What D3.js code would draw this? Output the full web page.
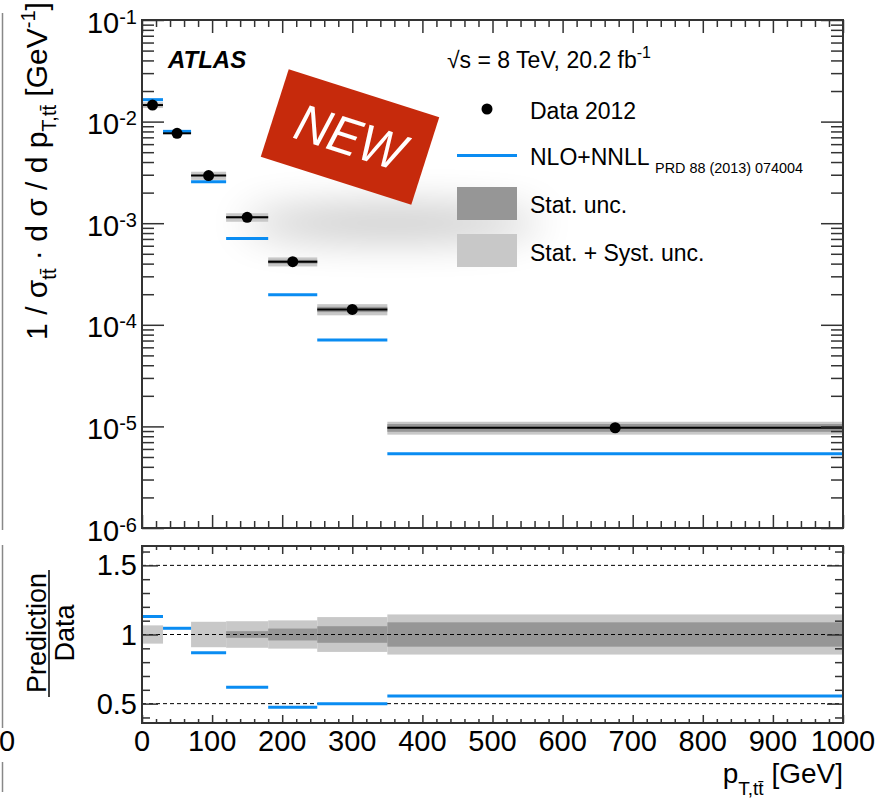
<!DOCTYPE html>
<html>
<head>
<meta charset="utf-8">
<script src="https://cdn.jsdelivr.net/npm/d3@7"></script>
<style>
body { margin: 0; background: #fff; }
text { font-family: "Liberation Sans", Arial, Helvetica, sans-serif; fill: #000; }
</style>
</head>
<body>
<div class="chart"></div>
<script>
// bins in p_T,ttbar [GeV]
const binEdges = [0, 30, 70, 120, 180, 250, 350, 1000];
// normalised cross section, data 2012
const dataVals = [1.455e-2, 7.67e-3, 2.94e-3, 1.143e-3, 4.18e-4, 1.418e-4, 9.7e-6];
// NLO+NNLL / data
const ratioVals = [1.13, 1.045, 0.868, 0.618, 0.474, 0.5, 0.556];
// relative uncertainties
const statUnc = [0, 0, 0, 0.024, 0.043, 0.06, 0.088];
const totUnc = [0.066, 0, 0.092, 0.096, 0.102, 0.126, 0.145];

const yTickExps = [-1, -2, -3, -4, -5, -6];
const ratioTickVals = [0.5, 1, 1.5];
const xTickVals = [0, 100, 200, 300, 400, 500, 600, 700, 800, 900, 1000];

const width = 875, height = 806;
const axisCol = "#333";
const blue = "#0a8cf2";

const svg = d3.select(".chart")
    .append("svg")
    .attr("width", width)
    .attr("height", height)
    .attr("viewBox", [0, 0, width, height]);

const x = d3.scaleLinear().domain([0, 1000]).range([142, 843]);
const y = d3.scaleLog().domain([1e-6, 1e-1]).range([528, 20]);
const r = d3.scaleLinear().domain([0.36, 1.64]).range([723, 546]);

const bins = dataVals.map((d, i) => ({
    lo: binEdges[i], hi: binEdges[i + 1], val: d,
    ratio: ratioVals[i], pred: d * ratioVals[i],
    stat: statUnc[i], tot: totUnc[i]
}));

// leftovers of the neighbouring plot at the left edge
svg.append("g")
    .attr("stroke", "#888").attr("stroke-width", 1.5)
    .selectAll("line")
    .data([[13, 530], [545, 728], [762, 792]])
    .join("line")
    .attr("x1", 2.5).attr("x2", 2.5)
    .attr("y1", d => d[0]).attr("y2", d => d[1]);
svg.append("text").attr("x", 7).attr("y", 751)
    .attr("text-anchor", "middle").attr("font-size", 29).text("0");

// shadow of the "NEW" stamp
const defs = svg.append("defs");
defs.append("filter").attr("id", "blur")
    .attr("x", "-50%").attr("y", "-200%").attr("width", "200%").attr("height", "500%")
    .append("feGaussianBlur").attr("stdDeviation", 20);
svg.append("ellipse")
    .attr("cx", 392).attr("cy", 223).attr("rx", 150).attr("ry", 14)
    .attr("fill", "#000").attr("opacity", 0.27)
    .attr("filter", "url(#blur)");

// uncertainty bands, main panel
const main = svg.append("g");
main.selectAll("rect.tot")
    .data(bins.filter(d => d.tot > 0))
    .join("rect")
    .attr("x", d => x(d.lo)).attr("width", d => x(d.hi) - x(d.lo))
    .attr("y", d => y(d.val * (1 + d.tot)))
    .attr("height", d => y(d.val * (1 - d.tot)) - y(d.val * (1 + d.tot)))
    .attr("fill", "#c8c8c8");
main.selectAll("rect.stat")
    .data(bins.filter(d => d.stat > 0))
    .join("rect")
    .attr("x", d => x(d.lo)).attr("width", d => x(d.hi) - x(d.lo))
    .attr("y", d => y(d.val * (1 + d.stat)))
    .attr("height", d => y(d.val * (1 - d.stat)) - y(d.val * (1 + d.stat)))
    .attr("fill", "#969696");

main.selectAll("line.pred")
    .data(bins)
    .join("line")
    .attr("x1", d => x(d.lo)).attr("x2", d => x(d.hi))
    .attr("y1", d => y(d.pred)).attr("y2", d => y(d.pred))
    .attr("stroke", blue).attr("stroke-width", 3);

main.selectAll("line.data")
    .data(bins)
    .join("line")
    .attr("x1", d => x(d.lo)).attr("x2", d => x(d.hi))
    .attr("y1", d => y(d.val)).attr("y2", d => y(d.val))
    .attr("stroke", "#000").attr("stroke-width", 2);

main.selectAll("circle")
    .data(bins)
    .join("circle")
    .attr("cx", d => x((d.lo + d.hi) / 2))
    .attr("cy", d => y(d.val))
    .attr("r", 5.5)
    .attr("fill", "#000");

// stamp on top
const stamp = svg.append("g").attr("transform", "translate(350,137) rotate(17.7)");
stamp.append("rect")
    .attr("x", -79).attr("y", -46).attr("width", 158).attr("height", 92)
    .attr("fill", "#c62a0c");
stamp.append("text")
    .attr("x", 0).attr("y", 18)
    .attr("text-anchor", "middle")
    .attr("font-family", "'Open Sans', sans-serif")
    .attr("font-style", "italic")
    .attr("font-size", 52)
    .attr("transform", "scale(0.92,1)")
    .style("fill", "#fff")
    .text("NEW");

// ratio panel
const ratio = svg.append("g");
ratio.selectAll("rect.tot")
    .data(bins.filter(d => d.tot > 0))
    .join("rect")
    .attr("x", d => x(d.lo)).attr("width", d => x(d.hi) - x(d.lo))
    .attr("y", d => r(1 + d.tot))
    .attr("height", d => r(1 - d.tot) - r(1 + d.tot))
    .attr("fill", "#c8c8c8");
ratio.selectAll("rect.stat")
    .data(bins.filter(d => d.stat > 0))
    .join("rect")
    .attr("x", d => x(d.lo)).attr("width", d => x(d.hi) - x(d.lo))
    .attr("y", d => r(1 + d.stat))
    .attr("height", d => r(1 - d.stat) - r(1 + d.stat))
    .attr("fill", "#969696");
ratio.selectAll("line.ref")
    .data(ratioTickVals)
    .join("line")
    .attr("x1", x(0)).attr("x2", x(1000))
    .attr("y1", d => r(d)).attr("y2", d => r(d))
    .attr("stroke", "#000").attr("stroke-width", 1)
    .attr("stroke-dasharray", "4,3");
ratio.selectAll("line.pred")
    .data(bins)
    .join("line")
    .attr("x1", d => x(d.lo)).attr("x2", d => x(d.hi))
    .attr("y1", d => r(d.ratio)).attr("y2", d => r(d.ratio))
    .attr("stroke", blue).attr("stroke-width", 3);

// ticks
const yAll = y.ticks();
const yMajor = yAll.filter(v => Math.abs(Math.log10(v) - Math.round(Math.log10(v))) < 1e-9);
const yMinor = yAll.filter(v => !yMajor.includes(v));
const xMinor = d3.range(0, 1001, 20).filter(v => v % 100 !== 0);
const rMinor = d3.range(4, 17).map(v => v / 10).filter(v => !ratioTickVals.includes(v));

function ticks(axis, tx, ty, vals, size) {
    const g = svg.append("g")
        .attr("transform", `translate(${tx},${ty})`)
        .call(axis.tickValues(vals).tickSize(size).tickFormat("").tickSizeOuter(0));
    g.select(".domain").remove();
    g.selectAll("line").attr("stroke", axisCol).attr("stroke-width", 1.5);
}
ticks(d3.axisLeft(y), 142, 0, yMinor, -12);
ticks(d3.axisLeft(y), 142, 0, yMajor, -22);
ticks(d3.axisRight(y), 843, 0, yMinor, -12);
ticks(d3.axisRight(y), 843, 0, yMajor, -22);
ticks(d3.axisBottom(x), 0, 528, xMinor, -7);
ticks(d3.axisBottom(x), 0, 528, xTickVals, -13);
ticks(d3.axisTop(x), 0, 20, xMinor, -7);
ticks(d3.axisTop(x), 0, 20, xTickVals, -13);

ticks(d3.axisLeft(r), 142, 0, rMinor, -8);
ticks(d3.axisLeft(r), 142, 0, ratioTickVals, -16);
ticks(d3.axisRight(r), 843, 0, rMinor, -8);
ticks(d3.axisRight(r), 843, 0, ratioTickVals, -16);
ticks(d3.axisBottom(x), 0, 723, xMinor, -4);
ticks(d3.axisBottom(x), 0, 723, xTickVals, -8);
ticks(d3.axisTop(x), 0, 546, xMinor, -4);
ticks(d3.axisTop(x), 0, 546, xTickVals, -8);

// frames
svg.append("g")
    .attr("fill", "none").attr("stroke", axisCol).attr("stroke-width", 2)
    .selectAll("rect")
    .data([[20, 528], [546, 723]])
    .join("rect")
    .attr("x", x(0)).attr("width", x(1000) - x(0))
    .attr("y", d => d[0]).attr("height", d => d[1] - d[0]);

// tick labels
const yLab = svg.append("g").selectAll("text")
    .data(yTickExps)
    .join("text")
    .attr("x", 137)
    .attr("y", d => y(Math.pow(10, d)) + 12.5)
    .attr("text-anchor", "end")
    .attr("font-size", 29);
yLab.append("tspan").text("10");
yLab.append("tspan").attr("font-size", 20).attr("dy", -9).text(d => d);

svg.append("g").selectAll("text")
    .data(ratioTickVals)
    .join("text")
    .attr("x", 137)
    .attr("y", d => r(d) + 10)
    .attr("text-anchor", "end")
    .attr("font-size", 29)
    .text(d => d);

svg.append("g").selectAll("text")
    .data(xTickVals)
    .join("text")
    .attr("x", d => x(d))
    .attr("y", 751)
    .attr("text-anchor", "middle")
    .attr("font-size", 29)
    .text(d => d);

// axis titles
const yTitle = svg.append("text")
    .attr("transform", "translate(47,171) rotate(-90)")
    .attr("text-anchor", "middle")
    .attr("font-size", 30);
yTitle.append("tspan").text("1 / σ");
yTitle.append("tspan").attr("font-size", 20).attr("dy", 9).text("tt\u0304");
yTitle.append("tspan").attr("dy", -9).text(" · d σ / d p");
yTitle.append("tspan").attr("font-size", 20).attr("dy", 9).text("T,tt\u0304");
yTitle.append("tspan").attr("dy", -9).text(" [GeV");
yTitle.append("tspan").attr("font-size", 20).attr("dy", -12).text("-1");
yTitle.append("tspan").attr("dy", 12).text("]");

svg.append("text")
    .attr("transform", "translate(46,633) rotate(-90)")
    .attr("text-anchor", "middle").attr("font-size", 27)
    .text("Prediction");
svg.append("line")
    .attr("x1", 49).attr("x2", 49).attr("y1", 570).attr("y2", 697)
    .attr("stroke", "#000").attr("stroke-width", 1.5);
svg.append("text")
    .attr("transform", "translate(74,633) rotate(-90)")
    .attr("text-anchor", "middle").attr("font-size", 27)
    .text("Data");

const xTitle = svg.append("text")
    .attr("x", 843).attr("y", 783)
    .attr("text-anchor", "end")
    .attr("font-size", 28);
xTitle.append("tspan").text("p");
xTitle.append("tspan").attr("font-size", 19).attr("dy", 12).text("T,tt\u0304");
xTitle.append("tspan").attr("dy", -12).text(" [GeV]");

// labels and legend
svg.append("text")
    .attr("x", 168).attr("y", 68)
    .attr("font-size", 24).attr("font-weight", "bold").attr("font-style", "italic")
    .text("ATLAS");

const energy = svg.append("text").attr("x", 447).attr("y", 68).attr("font-size", 23);
energy.append("tspan").text("√s = 8 TeV, 20.2 fb");
energy.append("tspan").attr("font-size", 16).attr("dy", -10).text("-1");

const leg = svg.append("g");
leg.append("circle").attr("cx", 487).attr("cy", 109).attr("r", 5.5).attr("fill", "#000");
leg.append("text").attr("x", 530).attr("y", 119).attr("font-size", 23).text("Data 2012");
leg.append("line").attr("x1", 457).attr("x2", 517).attr("y1", 155.5).attr("y2", 155.5)
    .attr("stroke", blue).attr("stroke-width", 3);
const nlo = leg.append("text").attr("x", 530).attr("y", 165).attr("font-size", 23);
nlo.append("tspan").text("NLO+NNLL ");
nlo.append("tspan").attr("font-size", 14.4).attr("dy", 8).text("PRD 88 (2013) 074004");
leg.append("rect").attr("x", 457).attr("y", 187).attr("width", 60).attr("height", 33).attr("fill", "#969696");
leg.append("text").attr("x", 530).attr("y", 213).attr("font-size", 23).text("Stat. unc.");
leg.append("rect").attr("x", 457).attr("y", 234).attr("width", 60).attr("height", 33).attr("fill", "#c8c8c8");
leg.append("text").attr("x", 530).attr("y", 261).attr("font-size", 23).text("Stat. + Syst. unc.");
</script>
</body>
</html>
